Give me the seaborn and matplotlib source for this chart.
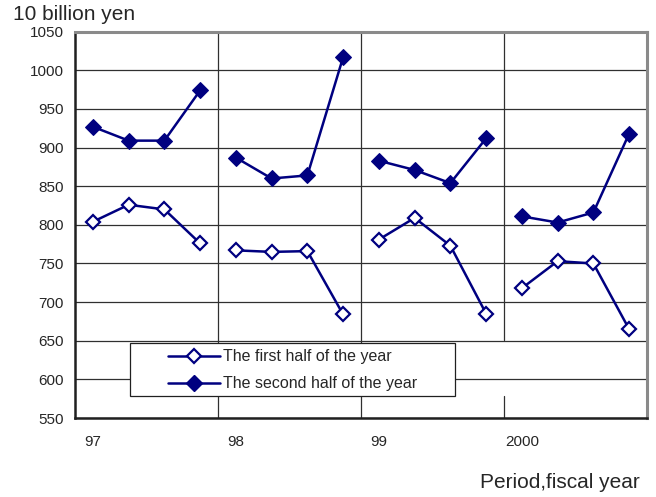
import matplotlib
matplotlib.use("Agg")
import matplotlib.pyplot as plt
import seaborn as sns
import pandas as pd
from matplotlib.lines import Line2D
from matplotlib.patches import Rectangle

# ---- data ----
year_labels = ["97", "98", "99", "2000"]
quarters_per_year = 4
first_half = [804, 826, 820, 776, 767, 765, 766, 684, 781, 809, 773, 685, 718, 753, 750, 665]
second_half = [927, 909, 909, 974, 887, 860, 864, 1017, 883, 871, 854, 912, 811, 803, 816, 918]
series_names = ["The first half of the year", "The second half of the year"]

rows = []
for i, (a, b) in enumerate(zip(first_half, second_half)):
    rows.append({"x": i + 0.5, "group": i // quarters_per_year, "series": series_names[0], "value": a})
    rows.append({"x": i + 0.5, "group": i // quarters_per_year, "series": series_names[1], "value": b})
df = pd.DataFrame(rows)

sns.set_style("white")
plt.rcParams["font.family"] = ["Liberation Sans", "DejaVu Sans"]

navy = "#000080"
open_kw = dict(color=navy, lw=1.8, marker="D", markersize=7.5, markerfacecolor="white",
               markeredgecolor=navy, markeredgewidth=1.6)
fill_kw = dict(color=navy, lw=1.8, marker="D", markersize=8.5, markerfacecolor=navy,
               markeredgecolor=navy)

fig = plt.figure(figsize=(6.56, 4.97), dpi=100)
ax = fig.add_axes([75 / 656, 1 - 418 / 497, 572 / 656, 386.3 / 497])

for g, sub in df.groupby("group"):
    s1 = sub[sub.series == series_names[0]]
    s2 = sub[sub.series == series_names[1]]
    sns.lineplot(data=s1, x="x", y="value", ax=ax, legend=False, zorder=3, **open_kw)
    sns.lineplot(data=s2, x="x", y="value", ax=ax, legend=False, zorder=3, **fill_kw)

n = len(first_half)
ax.set_xlim(0, n)
ax.set_ylim(550, 1050)
ax.set_yticks(range(550, 1051, 50))
ax.set_xticks([k * quarters_per_year + 0.5 for k in range(len(year_labels))])
ax.set_xticklabels(year_labels)
ax.tick_params(axis="x", length=0, pad=12, labelsize=11)
ax.tick_params(axis="y", length=0, pad=8, labelsize=11)
ax.set_xlabel("")
ax.set_ylabel("")

# grid
ax.yaxis.grid(True, color="#303030", lw=0.9, zorder=0)
ax.set_axisbelow(True)
for k in range(1, len(year_labels)):
    xv = k * quarters_per_year
    if k == len(year_labels) - 1:
        ax.axvline(xv, ymax=(578 - 550) / 500, color="#303030", lw=0.9, zorder=0)
        ax.axvline(xv, ymin=(651 - 550) / 500, color="#303030", lw=0.9, zorder=0)
    else:
        ax.axvline(xv, color="#303030", lw=0.9, zorder=0)

for side in ["left", "bottom"]:
    ax.spines[side].set_color("#202020")
    ax.spines[side].set_linewidth(1.8)
for side in ["top", "right"]:
    ax.spines[side].set_color("#8a8a8a")
    ax.spines[side].set_linewidth(2.2)

# legend box
ax.add_patch(Rectangle((0.0962, 0.057), 0.5681, 0.137, transform=ax.transAxes,
                       facecolor="white", edgecolor="#202020", lw=0.9, zorder=4))
handles = [Line2D([], [], **open_kw), Line2D([], [], **fill_kw)]
leg = ax.legend(handles, series_names, loc="upper left",
                bbox_to_anchor=(0.1626, 0.178), frameon=False, fontsize=11.5,
                handlelength=3.25, handletextpad=0.2, borderpad=0,
                labelspacing=0.75, borderaxespad=0)
leg.set_zorder(5)

fig.text(13 / 656, 1 - 15 / 497, "10 billion yen", fontsize=15, ha="left", va="center")
fig.text(640 / 656, 1 - 483 / 497, "Period,fiscal year", fontsize=15, ha="right", va="center")

fig.savefig("out.png", dpi=100)
